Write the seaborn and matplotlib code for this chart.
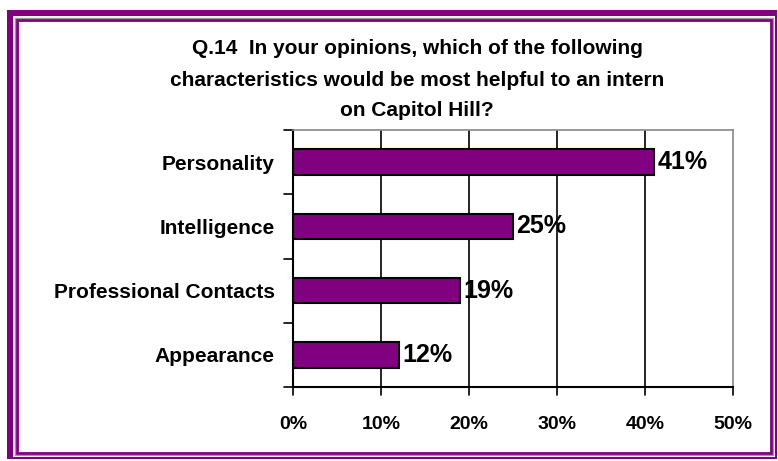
import matplotlib.pyplot as plt
import seaborn as sns
import pandas as pd
from matplotlib.patches import Rectangle

categories = ["Personality", "Intelligence", "Professional Contacts", "Appearance"]
values = [41, 25, 19, 12]
xticks = [0, 10, 20, 30, 40, 50]
title = ("Q.14  In your opinions, which of the following\n"
         "characteristics would be most helpful to an intern\n"
         "on Capitol Hill?")

purple = "#800080"

sns.set_style("white")
plt.rcParams["font.family"] = ["Liberation Sans", "DejaVu Sans"]
plt.rcParams["text.color"] = "black"
plt.rcParams["xtick.color"] = "black"
plt.rcParams["ytick.color"] = "black"

W, H = 778, 461
fig = plt.figure(figsize=(W / 100, H / 100), dpi=100)

# frame around the chart (pixel coords -> figure fraction)
def rect(x0, y0, x1, y1, **kw):
    fig.patches.append(Rectangle((x0 / W, 1 - y1 / H), (x1 - x0) / W, (y1 - y0) / H,
                                 transform=fig.transFigure, zorder=-10, **kw))

rect(7, 10, 777, 459, facecolor=purple, edgecolor="none")
rect(13, 16, 775, 457, facecolor="white", edgecolor="none")
rect(15, 18, 773, 455, facecolor="none", edgecolor="#999999", linewidth=1)
rect(17, 20, 771, 453, facecolor="none", edgecolor=purple, linewidth=2)

ax = fig.add_axes([293 / W, 1 - 387 / H, 440 / W, 257 / H])
ax.set_facecolor("none")
df = pd.DataFrame({"cat": categories, "val": values})
sns.barplot(data=df, x="val", y="cat", orient="h", color=purple, width=0.4,
            edgecolor="black", linewidth=1.5, saturation=1, ax=ax)

ax.set_xlim(0, 50)
ax.set_ylim(3.5, -0.5)
ax.set_xticks(xticks)
ax.set_xticklabels([f"{t}%" for t in xticks], fontsize=14, fontweight="bold")
ax.set_yticks(range(len(categories)))
ax.set_yticklabels(categories, fontsize=15, fontweight="bold")
ax.tick_params(axis="y", length=0, pad=13)
ax.tick_params(axis="x", length=0, pad=21)
ax.set_xlabel("")
ax.set_ylabel("")

# vertical gridlines
for t in xticks[1:-1]:
    ax.axvline(t, color="black", linewidth=1.2, zorder=0)

# category boundary ticks on the left axis
for b in [-0.5, 0.5, 1.5, 2.5, 3.5]:
    ax.plot([-1.0, 0], [b, b], color="black", linewidth=1.2, clip_on=False)
# ticks on the bottom axis
for t in xticks:
    ax.plot([t, t], [3.5, 3.62], color="black", linewidth=1.2, clip_on=False)

for s in ["top", "right"]:
    ax.spines[s].set_color("#888888")
    ax.spines[s].set_linewidth(1.2)
for s in ["left", "bottom"]:
    ax.spines[s].set_color("black")
    ax.spines[s].set_linewidth(1.5)

for i, v in enumerate(values):
    ax.text(v + 0.4, i, f"{v}%", va="center", ha="left", fontsize=18, fontweight="bold")

fig.text(417 / W, 1 - 80 / H, title, ha="center", va="center", fontsize=15,
         fontweight="bold", linespacing=1.8)

fig.savefig("out.png", dpi=100)
